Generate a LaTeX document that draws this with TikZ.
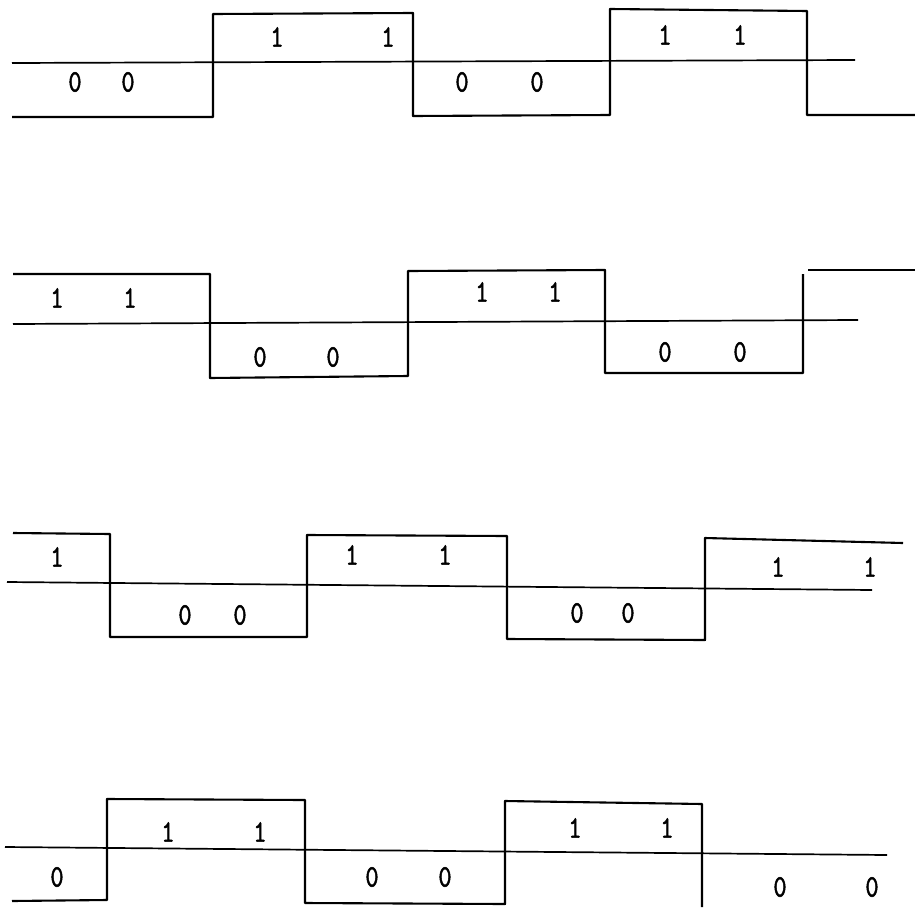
\documentclass[tikz,border=0pt]{standalone}
\usepackage{fontspec}
\usepackage{graphicx}
\newfontfamily\wavefont[FakeBold=1.8]{lmmono10-regular.otf}
\newcommand{\tallbit}[1]{\scalebox{1.05}[1.3]{#1}}
\begin{document}
\begin{tikzpicture}[x=1pt,y=-1pt,
  wave/.style={line width=2.1pt,line join=round},
  axisline/.style={line width=1.7pt},
  bit/.style={font=\wavefont\fontsize{24}{24}\selectfont,inner sep=0pt,anchor=center}]
\useasboundingbox[fill=white] (0,0) rectangle (915,907);

% ---------- waveform 1 ----------
\draw[axisline] (12,63) -- (855,60);
\draw[wave] (12,117) -- (213,117) -- (213,14) -- (413,13) -- (413,116) -- (610,115) -- (610,9) -- (807,11) -- (807,115) -- (915,115);
\node[bit] (w1a) at (75,82) {\tallbit{0}};
\node[bit] (w1b) at (128,82) {\tallbit{0}};
\node[bit] (w1c) at (277,37) {\tallbit{1}};
\node[bit] (w1d) at (388,37) {\tallbit{1}};
\node[bit] (w1e) at (462,82) {\tallbit{0}};
\node[bit] (w1f) at (537,82) {\tallbit{0}};
\node[bit] (w1g) at (665,35) {\tallbit{1}};
\node[bit] (w1h) at (740,35) {\tallbit{1}};

% ---------- waveform 2 ----------
\draw[axisline] (13,324) -- (858,320);
\draw[wave] (13,274) -- (210,274) -- (210,378) -- (408,376) -- (408,271) -- (605,270) -- (605,373) -- (803,373) -- (803,274);
\draw[wave] (808,270) -- (915,270);
\node[bit] (w2a) at (57,298) {\tallbit{1}};
\node[bit] (w2b) at (130,298) {\tallbit{1}};
\node[bit] (w2c) at (260,357) {\tallbit{0}};
\node[bit] (w2d) at (333,357) {\tallbit{0}};
\node[bit] (w2e) at (482,292) {\tallbit{1}};
\node[bit] (w2f) at (555,292) {\tallbit{1}};
\node[bit] (w2g) at (665,352) {\tallbit{0}};
\node[bit] (w2h) at (740,352) {\tallbit{0}};

% ---------- waveform 3 ----------
\draw[axisline] (7,582) -- (872,590);
\draw[wave] (13,533) -- (110,534) -- (110,637) -- (307,637) -- (307,535) -- (507,536) -- (507,639) -- (705,640) -- (705,538) -- (903,543);
\node[bit] (w3a) at (57,557) {\tallbit{1}};
\node[bit] (w3b) at (185,615) {\tallbit{0}};
\node[bit] (w3c) at (240,615) {\tallbit{0}};
\node[bit] (w3d) at (352,555) {\tallbit{1}};
\node[bit] (w3e) at (445,555) {\tallbit{1}};
\node[bit] (w3f) at (577,613) {\tallbit{0}};
\node[bit] (w3g) at (628,613) {\tallbit{0}};
\node[bit] (w3h) at (778,567) {\tallbit{1}};
\node[bit] (w3i) at (870,567) {\tallbit{1}};

% ---------- waveform 4 ----------
\draw[axisline] (5,847) -- (887,855);
\draw[wave] (12,901) -- (107,900) -- (107,799) -- (305,800) -- (305,903) -- (505,904) -- (505,801) -- (702,804) -- (702,907);
\node[bit] (w4a) at (57,877) {\tallbit{0}};
\node[bit] (w4b) at (168,832) {\tallbit{1}};
\node[bit] (w4c) at (260,832) {\tallbit{1}};
\node[bit] (w4d) at (372,877) {\tallbit{0}};
\node[bit] (w4e) at (445,877) {\tallbit{0}};
\node[bit] (w4f) at (575,828) {\tallbit{1}};
\node[bit] (w4g) at (667,828) {\tallbit{1}};
\node[bit] (w4h) at (780,887) {\tallbit{0}};
\node[bit] (w4i) at (872,887) {\tallbit{0}};
\end{tikzpicture}
\end{document}
